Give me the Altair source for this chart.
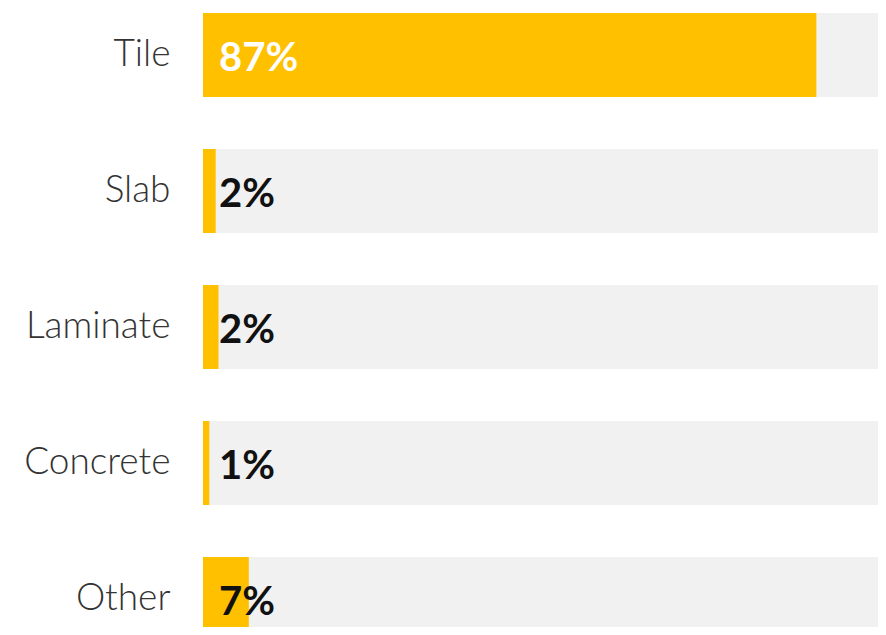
import altair as alt
import pandas as pd

categories = ["Tile", "Slab", "Laminate", "Concrete", "Other"]
values = [87.0, 1.8, 2.2, 0.9, 6.5]
value_labels = ["87%", "2%", "2%", "1%", "7%"]
totals = [100, 100, 100, 100, 100]

df = pd.DataFrame({
    "category": categories,
    "value": values,
    "label": value_labels,
    "total": totals,
})

y_enc = alt.Y(
    "category:N",
    sort=categories,
    scale=alt.Scale(range=[0, 628], paddingInner=0.3824, paddingOuter=0),
    axis=alt.Axis(
        title=None, ticks=False, domain=False, grid=False,
        labelFontSize=37, labelFont="Lato", labelFontWeight=300,
        labelColor="#333333", labelPadding=33, labelBaseline="middle",
        labelOffset=0,
    ),
)
x_scale = alt.Scale(domain=[0, 100], range=[0, 705])

base = alt.Chart(df)

bg = base.mark_bar(color="#F1F1F1").encode(
    x=alt.X("total:Q", scale=x_scale, axis=None),
    y=y_enc,
)
fg = base.mark_bar(color="#FFC000").encode(
    x=alt.X("value:Q", scale=x_scale, axis=None),
    y=y_enc,
)
txt = base.mark_text(
    align="left", baseline="middle", dx=16, dy=4,
    font="Lato", fontWeight="bold", fontSize=40,
).encode(
    x=alt.datum(0, scale=x_scale),
    y=y_enc,
    text="label:N",
    color=alt.condition("datum.value > 50", alt.value("#FFFFFF"), alt.value("#111111")),
)

chart = alt.layer(bg, fg, txt).properties(
    width=675,
    height=614,
    autosize=alt.AutoSizeParams(type="none"),
    padding={"left": 195, "top": 5, "right": 0, "bottom": 0},
).configure_view(stroke=None)

chart.save("out.html", embed_options={"renderer": "svg", "actions": False})
